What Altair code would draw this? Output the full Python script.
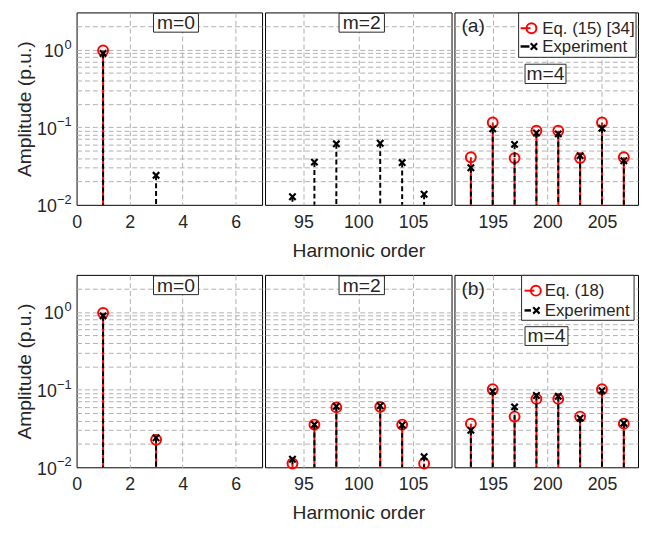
import altair as alt
import pandas as pd

# ---------------- data ----------------
harm_m0 = [1, 3]
harm_m2 = [94, 96, 98, 102, 104, 106]
harm_m4 = [193, 195, 197, 199, 201, 203, 205, 207]

exp_m0 = [0.89, 0.024]
exp_m2 = [0.0127, 0.0355, 0.061, 0.062, 0.035, 0.0137]
exp_m4 = [0.030, 0.095, 0.060, 0.084, 0.082, 0.043, 0.097, 0.037]

eq15_m0 = [0.97, None]
eq15_m2 = [None, None, None, None, None, None]
eq15_m4 = [0.041, 0.115, 0.040, 0.090, 0.090, 0.040, 0.115, 0.041]

eq18_m0 = [0.97, 0.0226]
eq18_m2 = [0.0112, 0.0355, 0.059, 0.060, 0.0355, 0.0112]
eq18_m4 = [0.0365, 0.101, 0.045, 0.076, 0.076, 0.045, 0.101, 0.0365]

y_ticks = [0.01, 0.02, 0.03, 0.04, 0.05, 0.06, 0.07, 0.08, 0.09,
           0.1, 0.2, 0.3, 0.4, 0.5, 0.6, 0.7, 0.8, 0.9, 1, 2]
y_decades = [1, 0.1, 0.01]
y_exponents = ["0", "\u22121", "\u22122"]
x_ticks_m0 = [0, 2, 4, 6]
x_ticks_m2 = [95, 100, 105]
x_ticks_m4 = [195, 200, 205]

legend_top = ["Eq. (15) [34]", "Experiment"]
legend_bottom = ["Eq. (18)", "Experiment"]

# ---------------- style ----------------
FONT = "Liberation Sans"
TXT = "#262626"
RED = "#ff0000"
GRID = "#b0b0b0"
H = 195
CROSS = "M-1,-1L1,1M-1,1L1,-1"


def x_enc(xdom, xticks, xtitle):
    return alt.X(
        "h:Q",
        scale=alt.Scale(domain=xdom, nice=False, zero=False),
        axis=alt.Axis(
            values=xticks, title=xtitle, grid=True, gridDash=[5, 3],
            gridColor=GRID,
            gridOpacity={"condition": {"test": f"datum.value == {xdom[0]}", "value": 0}, "value": 1},
            ticks=False, domain=False, labelFont=FONT, labelFontSize=18,
            labelColor=TXT, labelPadding=9, labelFlush=False, labelOverlap=False,
            titleFont=FONT, titleFontSize=19.5, titleColor=TXT,
            titleFontWeight="normal", titlePadding=10,
        ),
    )


def y_enc(first):
    common = dict(
        values=y_ticks, grid=True, gridDash=[5, 3], gridColor=GRID,
        gridOpacity={"condition": {"test": "datum.value == 0.01", "value": 0}, "value": 1},
        ticks=False, domain=False, labels=False,
    )
    if first:
        ax = alt.Axis(
            title="Amplitude (p.u.)", minExtent=39, maxExtent=39, titlePadding=4,
            titleFont=FONT, titleFontSize=19.5, titleColor=TXT,
            titleFontWeight="normal", **common,
        )
    else:
        ax = alt.Axis(title=None, **common)
    return alt.Y("amp:Q", scale=alt.Scale(type="log", domain=[0.01, 3], nice=False), axis=ax)


def ylabel_layers():
    d = pd.DataFrame({"amp": y_decades, "e": y_exponents, "b": ["10"] * len(y_decades)})
    yv = alt.Y("amp:Q")
    base = alt.Chart(d)
    exp_l = base.mark_text(font=FONT, fontSize=13, color=TXT, align="right",
                           baseline="middle", dy=-5).encode(
        x=alt.value(-5), y=yv, text="e:N")
    ten0 = base.transform_filter("datum.e == '0'").mark_text(
        font=FONT, fontSize=18, color=TXT, align="right", baseline="middle", dy=2.5).encode(
        x=alt.value(-13), y=yv, text="b:N")
    ten1 = base.transform_filter("datum.e != '0'").mark_text(
        font=FONT, fontSize=18, color=TXT, align="right", baseline="middle", dy=2.5).encode(
        x=alt.value(-20), y=yv, text="b:N")
    return [exp_l, ten0, ten1]


def box_layers(label, x0, x1, y0, y1, fs=19.5):
    d = pd.DataFrame({"t": [label]})
    rect = alt.Chart(d).mark_rect(fill="white", stroke=TXT, strokeWidth=1).encode(
        x=alt.value(x0), x2=alt.value(x1), y=alt.value(y0), y2=alt.value(y1))
    txt = alt.Chart(d).mark_text(font=FONT, fontSize=fs, color=TXT, align="center",
                                 baseline="middle").encode(
        x=alt.value((x0 + x1) / 2), y=alt.value((y0 + y1) / 2 + 0.5), text="t:N")
    return [rect, txt]


def legend_layers(labels, g):
    layers = []
    d0 = pd.DataFrame({"t": ["frame"]})
    layers.append(alt.Chart(d0).mark_rect(fill="white", stroke=TXT, strokeWidth=1).encode(
        x=alt.value(g["x0"]), x2=alt.value(g["x1"]), y=alt.value(g["y0"]), y2=alt.value(g["y1"])))
    d1 = pd.DataFrame({"t": [labels[0]]})
    r1 = g["rows"][0]
    layers.append(alt.Chart(d1).mark_rule(color=RED, strokeWidth=2).encode(
        x=alt.value(g["line"][0]), x2=alt.value(g["line"][1]), y=alt.value(r1)))
    layers.append(alt.Chart(d1).mark_point(shape="circle", filled=False, color=RED, size=100,
                                           strokeWidth=2, opacity=1).encode(
        x=alt.value(g["circ"]), y=alt.value(r1)))
    layers.append(alt.Chart(d1).mark_text(font=FONT, fontSize=17, color=TXT, align="left",
                                          baseline="middle").encode(
        x=alt.value(g["text"]), y=alt.value(r1 + 0.5), text="t:N"))
    d2 = pd.DataFrame({"t": [labels[1]]})
    r2 = g["rows"][1]
    layers.append(alt.Chart(d2).mark_rule(color="black", strokeWidth=2.5).encode(
        x=alt.value(g["dash"][0]), x2=alt.value(g["dash"][1]), y=alt.value(r2)))
    layers.append(alt.Chart(d2).mark_point(shape=CROSS, filled=False, color="black", size=42,
                                           strokeWidth=2.2, opacity=1).encode(
        x=alt.value(g["cross"]), y=alt.value(r2)))
    layers.append(alt.Chart(d2).mark_text(font=FONT, fontSize=17, color=TXT, align="left",
                                          baseline="middle").encode(
        x=alt.value(g["text"]), y=alt.value(r2 + 0.5), text="t:N"))
    return layers


def panel(harm, model, exp, xdom, xticks, width, first, xtitle, extra):
    dm = pd.DataFrame({"h": harm, "amp": model}).dropna()
    de = pd.DataFrame({"h": harm, "amp": exp})
    x = x_enc(xdom, xticks, xtitle)
    y = y_enc(first)
    layers = [
        alt.Chart(dm).mark_rule(color=RED, strokeWidth=2).encode(x=x, y=y, y2=alt.datum(0.01)),
        alt.Chart(dm).mark_point(shape="circle", filled=False, color=RED, size=100,
                                 strokeWidth=2, opacity=1).encode(x=x, y=y),
        alt.Chart(de).mark_rule(color="black", strokeWidth=2, strokeDash=[5, 3]).encode(
            x=x, y=y, y2=alt.datum(0.01)),
        alt.Chart(de).mark_point(shape=CROSS, filled=False, color="black", size=42,
                                 strokeWidth=2.2, opacity=1).encode(x=x, y=y),
    ]
    if first:
        layers += ylabel_layers()
    layers += extra
    return alt.layer(*layers).properties(width=width, height=H)


def row(eq_m0, eq_m2, eq_m4, tag, legend_labels, g, m4box):
    p1 = panel(harm_m0, eq_m0, exp_m0, [0, 7], x_ticks_m0, 188, True, None,
               box_layers("m=0", 78, 123.5, 1, 20))
    p2 = panel(harm_m2, eq_m2, exp_m2, [91.5, 108.5], x_ticks_m2, 189, False,
               "Harmonic order", box_layers("m=2", 75, 121, 1, 20))
    tagd = pd.DataFrame({"t": [tag]})
    tag_layer = alt.Chart(tagd).mark_text(font=FONT, fontSize=19.5, color=TXT, align="left",
                                          baseline="middle").encode(
        x=alt.value(7), y=alt.value(14), text="t:N")
    p3 = panel(harm_m4, eq_m4, exp_m4, [191.5, 208.3], x_ticks_m4, 186, False, None,
               [tag_layer] + legend_layers(legend_labels, g) + box_layers("m=4", *m4box))
    return [p1, p2, p3]


g_top = dict(x0=65, x1=184, y0=0.5, y1=45.5, rows=[16, 34.5], line=(67, 77), circ=78,
             dash=(67, 76), cross=80.5, text=89)
g_bot = dict(x0=68, x1=182, y0=0.5, y1=46, rows=[16, 36], line=(71, 81), circ=82.5,
             dash=(71, 77.5), cross=83, text=91.5)

panels = (row(eq15_m0, eq15_m2, eq15_m4, "(a)", legend_top, g_top, (71.5, 113, 52.5, 72))
          + row(eq18_m0, eq18_m2, eq18_m4, "(b)", legend_bottom, g_bot, (71.5, 115, 52.5, 71.5)))

chart = (
    alt.concat(*panels, columns=3, spacing=alt.RowColnumber(row=71, column=3), bounds="flush")
    .resolve_scale(x="independent", y="independent")
    .properties(padding={"left": 5.5, "top": 0, "right": 0, "bottom": 0}, background="white")
    .configure_view(stroke="black", strokeWidth=1)
)

chart.save("out.html", embed_options={"renderer": "svg", "actions": False})
